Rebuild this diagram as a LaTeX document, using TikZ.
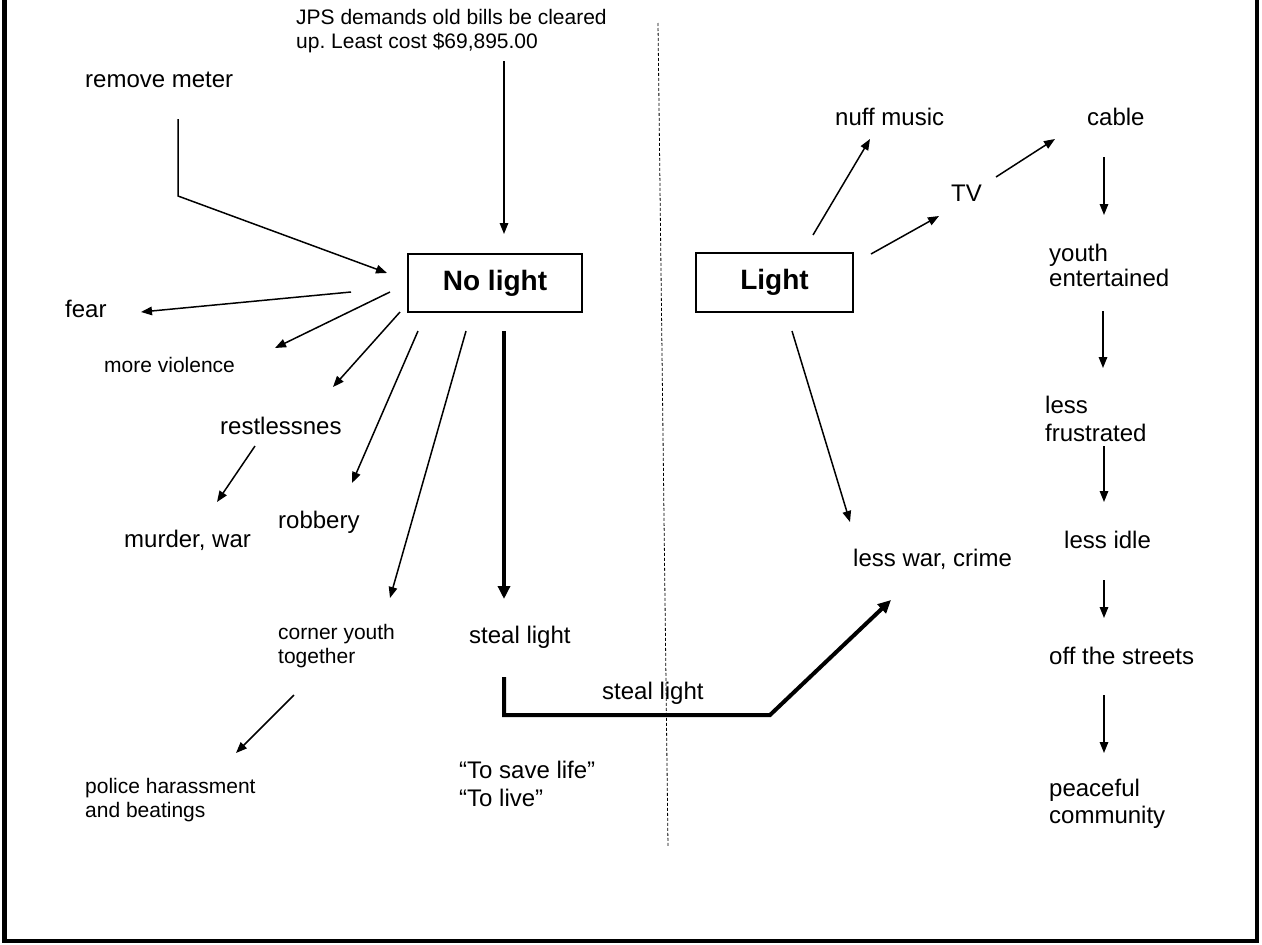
\documentclass[tikz,border=0pt]{standalone}
\usepackage{fontspec}
\setmainfont{Liberation Sans}
\usetikzlibrary{arrows.meta}
\frenchspacing
\tikzset{
  txt/.style={inner sep=0pt, anchor=west, align=left, font=\fontsize{24}{27}\selectfont},
  small/.style={txt, font=\fontsize{21}{24}\selectfont},
  boxnode/.style={draw, line width=2pt, inner sep=0pt, font=\fontsize{28}{32}\selectfont\bfseries},
  arr/.style={line width=1.5pt, -{Triangle[length=11pt,width=8.5pt]}},
  thickarr/.style={line width=4pt, -{Triangle[length=13pt,width=12pt]}},
  frame/.style={line width=4.5pt, line join=miter},
  divider/.style={line width=0.8pt, dash pattern=on 3pt off 2pt}
}
\begin{document}
\begin{tikzpicture}[x=1pt, y=-1pt]
\useasboundingbox (0,0) rectangle (1262,945);
\draw[frame] (4.5,-5) -- (4.5,941) -- (1257,941) -- (1257,-5);

% nodes
\node[small] (jps) at (296,31.5) {JPS demands old bills be cleared\\up. Least cost \$69,895.00};
\node[txt] (meter) at (85,80) {remove meter};
\node[boxnode, minimum width=174pt, minimum height=58pt] (nolight) at (495,283) {No light};
\node[boxnode, minimum width=157pt, minimum height=59pt] (light) at (774.5,282.5) {Light};
\node[txt] (fear) at (65,309) {fear};
\node[small] (viol) at (104,365) {more violence};
\node[txt] (restl) at (220,426) {restlessnes};
\node[txt] (murder) at (124,540) {murder, war};
\node[txt] (robb) at (278,522) {robbery};
\node[small] (corner) at (278,646) {corner youth\\together};
\node[txt] (steal) at (469,637) {steal light};
\node[txt] (steal2) at (602,693) {steal light};
\node[small] (police) at (85,800) {police harassment\\and beatings};
\node[txt, font=\fontsize{24}{28}\selectfont] (save) at (459,784) {“To save life”\\“To live”};
\node[txt] (nuff) at (835,117) {nuff music};
\node[txt] (cable) at (1087,117) {cable};
\node[txt] (tv) at (951,193) {TV};
\node[txt, font=\fontsize{24}{25}\selectfont] (youth) at (1049,265.5) {youth\\entertained};
\node[txt, font=\fontsize{24}{28}\selectfont] (frus) at (1045,419) {less\\frustrated};
\node[txt] (idle) at (1064,540) {less idle};
\node[txt] (lesswar) at (853,559) {less war, crime};
\node[txt] (streets) at (1049,656) {off the streets};
\node[txt] (peace) at (1049,803.5) {peaceful\\community};

% connector end points
\coordinate (meterA) at (178,119);
\coordinate (meterB) at (178,196);
\coordinate (nlIn1) at (387,273);
\coordinate (jpsA) at (504,61);
\coordinate (nlIn2) at (504,234);
\coordinate (nlFear) at (351,292);
\coordinate (fearT) at (141,312);
\coordinate (nlViol) at (390,292);
\coordinate (violT) at (275,348);
\coordinate (nlRest) at (400,312);
\coordinate (restT) at (333,387);
\coordinate (restA) at (255,446);
\coordinate (murderT) at (217,502);
\coordinate (nlRob) at (418,331);
\coordinate (robT) at (352,483);
\coordinate (nlCor) at (466,331);
\coordinate (corT) at (390,598);
\coordinate (nlSteal) at (504,331);
\coordinate (stealT) at (504,599);
\coordinate (corA) at (294,695);
\coordinate (policeT) at (236,753);
\coordinate (stealA) at (504,677);
\coordinate (stealB) at (504,715);
\coordinate (stealC) at (770,715);
\coordinate (warT2) at (891,600);
\coordinate (lNuff) at (813,235);
\coordinate (nuffT) at (870,139);
\coordinate (lTV) at (871,254);
\coordinate (tvT) at (939,216);
\coordinate (tvA) at (996,177);
\coordinate (cableT) at (1055,139);
\coordinate (cableA) at (1104,157);
\coordinate (youthT) at (1104,215);
\coordinate (youthA) at (1103,311);
\coordinate (frusT) at (1103,368);
\coordinate (frusA) at (1104,446);
\coordinate (idleT) at (1104,502);
\coordinate (idleA) at (1104,580);
\coordinate (streetsT) at (1104,618);
\coordinate (streetsA) at (1104,695);
\coordinate (peaceT) at (1104,753);
\coordinate (lWar) at (792,331);
\coordinate (warT) at (850,522);
\coordinate (divTop) at (658,23);
\coordinate (divBot) at (668,847);

% connectors
\draw[arr] (meterA) -- (meterB) -- (nlIn1);
\draw[arr] (jpsA) -- (nlIn2);
\draw[arr] (nlFear) -- (fearT);
\draw[arr] (nlViol) -- (violT);
\draw[arr] (nlRest) -- (restT);
\draw[arr] (restA) -- (murderT);
\draw[arr] (nlRob) -- (robT);
\draw[arr] (nlCor) -- (corT);
\draw[thickarr] (nlSteal) -- (stealT);
\draw[arr] (corA) -- (policeT);
\draw[thickarr, line join=miter] (stealA) -- (stealB) -- (stealC) -- (warT2);
\draw[arr] (lNuff) -- (nuffT);
\draw[arr] (lTV) -- (tvT);
\draw[arr] (tvA) -- (cableT);
\draw[arr] (cableA) -- (youthT);
\draw[arr] (youthA) -- (frusT);
\draw[arr] (frusA) -- (idleT);
\draw[arr] (idleA) -- (streetsT);
\draw[arr] (streetsA) -- (peaceT);
\draw[arr] (lWar) -- (warT);
\draw[divider] (divTop) -- (divBot);
\end{tikzpicture}
\end{document}
